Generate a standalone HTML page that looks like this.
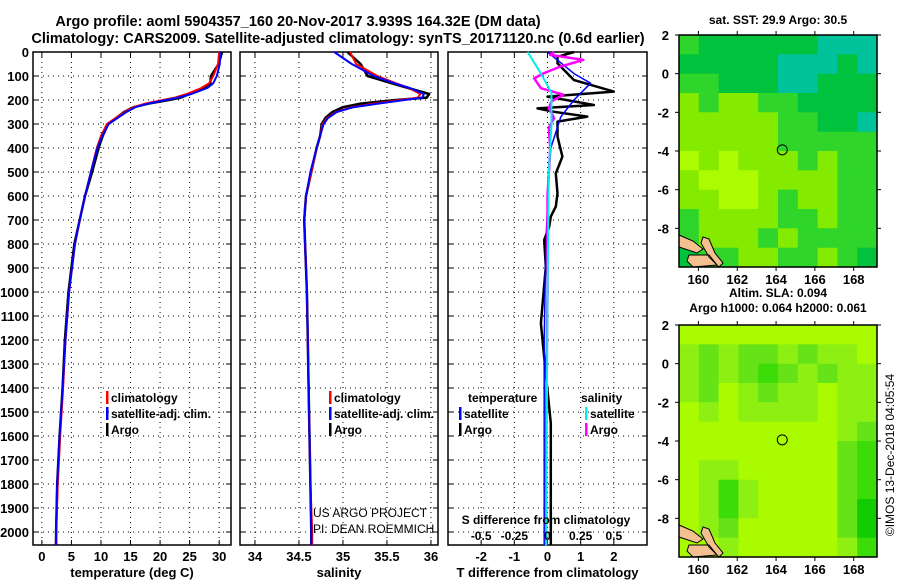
<!DOCTYPE html>
<html><head><meta charset="utf-8"><style>
body{margin:0;background:#fff}
svg{display:block;font-family:"Liberation Sans",Arial,sans-serif}
.b{font-weight:bold;font-size:13px}
.h{font-weight:bold;font-size:14.5px}
.t{font-weight:bold;font-size:12px}
</style></head><body>
<svg id="c" width="900" height="580" viewBox="0 0 900 580" xmlns="http://www.w3.org/2000/svg">
<text x="298" y="26" text-anchor="middle" class="h">Argo profile: aoml 5904357_160 20-Nov-2017 3.939S 164.32E (DM data)</text>
<text x="338" y="43" text-anchor="middle" class="h">Climatology: CARS2009. Satellite-adjusted climatology: synTS_20171120.nc (0.6d earlier)</text>
<g id="plots"></g>
</svg>
<script>
// ---------- data ----------
const depthTicks=[0,100,200,300,400,500,600,700,800,900,1000,1100,1200,1300,1400,1500,1600,1700,1800,1900,2000];
const tempTicks=[0,5,10,15,20,25,30];
const salTicks=[34,34.5,35,35.5,36];
const tdiffTicks=[-2,-1,0,1,2];
const sdiffTicks=[-0.5,-0.25,0,0.25,0.5];
const sdiffTickLabels=["-0.5","-0.25","0","0.25","0.5"];
const profDepth=[0,50,100,130,150,175,190,200,215,230,250,275,300,350,400,500,600,700,800,900,1000,1200,1400,1600,1800,2000,2055];
const tempClim=[30.0,29.8,29.0,28.3,27.0,24.5,22.5,20.5,17.5,15.5,14.0,12.5,11.0,10.0,9.3,8.3,7.3,6.4,5.6,5.1,4.6,4.0,3.6,3.1,2.7,2.4,2.35];
const tempSat=[30.2,30.1,29.6,29.0,28.0,25.3,23.0,21.0,18.0,15.8,14.3,12.8,11.3,10.2,9.4,8.3,7.3,6.4,5.6,5.1,4.6,4.0,3.5,3.0,2.6,2.4,2.35];
const tempArgo=[30.5,29.9,28.6,28.5,27.3,25.0,23.5,21.5,18.0,15.5,13.9,12.6,11.2,10.3,9.6,8.5,7.3,6.4,5.5,5.0,4.5,3.9,3.5,3.0,2.6,2.4,2.4];
const salClim=[35.08,35.15,35.39,35.6,35.75,35.88,35.85,35.65,35.35,35.1,34.92,34.82,34.77,34.74,34.7,34.64,34.58,34.56,34.57,34.58,34.59,34.6,34.61,34.62,34.63,34.65,34.65];
const salSat=[34.9,35.1,35.35,35.58,35.76,35.92,35.9,35.7,35.4,35.12,34.93,34.83,34.78,34.74,34.7,34.63,34.58,34.56,34.57,34.58,34.59,34.6,34.61,34.62,34.63,34.64,34.64];
const salArgo=[35.05,35.2,35.28,35.55,35.74,35.98,35.95,35.6,35.2,35.0,34.88,34.8,34.76,34.74,34.7,34.64,34.58,34.56,34.57,34.58,34.59,34.6,34.61,34.62,34.63,34.64,34.64];
const tdDepthArgo=[0,20,47,117,165,186,221,235,249,269,290,353,436,506,589,644,686,728,783,894,1131,1339,1547,1800,2055];
const tdArgo=[0.8,0.3,0.3,0.8,2.0,0.0,1.4,-0.3,0.2,1.2,0.3,0.3,0.45,0.25,0.3,0.25,0.1,0.05,-0.1,-0.05,-0.2,-0.05,0.1,0.1,0.1];
const tdDepthSat=[0,90,130,200,270,400,500,800,1200,2055];
const tdSat=[0.0,0.8,1.3,0.8,0.4,0.1,0.05,-0.05,-0.1,-0.1];
const sdDepthArgo=[0,12,33,60,89,110,151,178,206,234,275,316,400,600,1000,1500,2055];
const sdArgo=[0.05,0.02,0.27,0.1,-0.03,-0.1,-0.05,0.12,0.03,0.01,0.05,0.01,0.02,0.0,0.0,-0.01,-0.01];
const sdDepthSat=[0,80,170,300,500,1000,2055];
const sdSat=[-0.15,-0.06,0.03,0.03,0.01,0.0,-0.01];
const mapLonTicks=[160,162,164,166,168];
const mapLatTicks=[2,0,-2,-4,-6,-8];
const sstPalette=["#00c23c","#2fd52a","#84ea00","#acfb00","#00c39c"];
const sstGrid=[
[1,0,0,0,0,0,0,4,4,4],[0,0,0,0,0,4,4,4,0,4],[1,1,0,0,0,4,4,0,0,0],[2,1,2,2,1,1,0,0,0,0],
[2,2,2,2,2,1,1,0,0,4],[2,2,2,2,2,1,1,1,1,1],[3,2,3,2,2,2,1,2,1,1],[2,3,3,3,2,2,2,2,1,1],
[2,2,3,3,2,1,2,2,1,1],[1,2,2,2,2,1,1,2,1,1],[1,2,2,2,1,2,1,1,1,1],[0,1,1,2,2,1,1,2,1,0]];
const slaPalette=["#aafb00","#8ef012","#66e316","#3cdc08","#10cc00"];
const slaGrid=[
[0,0,0,0,0,0,0,0,0,0],[1,2,1,2,2,1,2,1,1,0],[1,2,1,2,3,2,1,2,1,1],[1,2,0,1,2,1,1,0,1,1],
[0,1,0,1,1,1,1,0,1,1],[0,0,0,0,0,0,0,0,1,2],[0,0,0,0,0,0,0,0,2,3],[0,1,1,0,0,0,0,0,2,3],
[0,1,3,1,0,0,0,0,2,3],[0,1,3,1,0,0,0,0,2,4],[0,1,2,0,0,0,0,0,2,4],[0,0,1,0,0,0,0,0,1,3]];
const floatLon=164.32, floatLat=-3.94;

// ---------- helpers ----------
const NS="http://www.w3.org/2000/svg";
const root=document.getElementById('plots');
function mk(tag,attrs,parent){const e=document.createElementNS(NS,tag);for(const k in attrs)e.setAttribute(k,attrs[k]);(parent||root).appendChild(e);return e;}
function txt(x,y,s,cls,anchor,parent){const e=mk('text',{x:x,y:y,'text-anchor':anchor||'middle','class':cls||'b'},parent);e.textContent=s;return e;}
const Y0=52, PX100=24;
function yD(d){return Y0+d*PX100/100;}
const yTop=52,yBot=545;
function panel(name,x0,x1,xmin,xmax,ticks,labels,title){
  const g=mk('g',{});
  
  
  const sx=v=>x0+(v-xmin)/(xmax-xmin)*(x1-x0);
  depthTicks.forEach(d=>{const l=mk('line',{x1:x0,x2:x1,y1:yD(d),y2:yD(d),stroke:'#000','stroke-width':1,'stroke-dasharray':'1,4'},g);
    
    
    mk('line',{x1:x0,x2:x0+5,y1:yD(d),y2:yD(d),stroke:'#000'},g);mk('line',{x1:x1-5,x2:x1,y1:yD(d),y2:yD(d),stroke:'#000'},g);});
  ticks.forEach((t,i)=>{mk('line',{x1:sx(t),x2:sx(t),y1:yTop,y2:yBot,stroke:'#000','stroke-dasharray':'1,4'},g);
    mk('line',{x1:sx(t),x2:sx(t),y1:yBot-5,y2:yBot,stroke:'#000'},g);mk('line',{x1:sx(t),x2:sx(t),y1:yTop,y2:yTop+5,stroke:'#000'},g);
    const tl=txt(sx(t),561,labels?labels[i]:String(t),'b','middle',g);
    
    });
  const r=mk('rect',{x:x0,y:yTop,width:x1-x0,height:yBot-yTop,fill:'none',stroke:'#000','stroke-width':1.5},g);
  
  
  const tt=txt((x0+x1)/2,577,title,'b','middle',g);
  
  
  return {g,sx};
}
function line(p,xs,ds,col,w,name,sx2){
  const f=sx2||p.sx;
  const pts=xs.map((v,i)=>f(v).toFixed(1)+','+yD(ds[i]).toFixed(1)).join(' ');
  const e=mk('polyline',{points:pts,fill:'none',stroke:col,'stroke-width':w,'stroke-linejoin':'round'},p.g);
  
  
}
function legend(g,x,y,col,label,name){
  mk('rect',{x:x,y:y-11,width:2.5,height:13,fill:col},g);
  const e=txt(x+5,y,label,'t','start',g);
  
  
}
depthTicks.forEach(d=>{const e=txt(29,yD(d)+5,String(d),'b','end');
  
  });

const p1=panel('temperature-panel',33,231,-1.5,32,tempTicks,null,'temperature (deg C)');
line(p1,tempArgo,profDepth,'#000',2.5,'temp-argo-line');
line(p1,tempClim,profDepth,'#f00',2,'temp-climatology-line');
line(p1,tempSat,profDepth,'#00f',2,'temp-satellite-line');
legend(p1.g,106,402,'#f00','climatology','legend-climatology');
legend(p1.g,106,418,'#00f','satellite-adj. clim.','legend-satellite');
legend(p1.g,106,434,'#000','Argo','legend-argo');

const p2=panel('salinity-panel',240,438,33.83,36.08,salTicks,null,'salinity');
line(p2,salArgo,profDepth,'#000',2.5,'sal-argo-line');
line(p2,salClim,profDepth,'#f00',2,'sal-climatology-line');
line(p2,salSat,profDepth,'#00f',2,'sal-satellite-line');
legend(p2.g,329,402,'#f00','climatology','legend-climatology');
legend(p2.g,329,418,'#00f','satellite-adj. clim.','legend-satellite');
legend(p2.g,329,434,'#000','Argo','legend-argo');
const u1=txt(313,517,'US ARGO PROJECT','t','start',p2.g);u1.setAttribute('style','font-weight:normal');


const u2=txt(313,533,'PI: DEAN ROEMMICH','t','start',p2.g);u2.setAttribute('style','font-weight:normal');



const p3=panel('difference-panel',448,647,-3,3,tdiffTicks,null,'T difference from climatology');
const sxS=v=>448+(v+0.75)/1.5*199;
line(p3,tdArgo,tdDepthArgo,'#000',2.5,'tdiff-argo-line');
line(p3,tdSat,tdDepthSat,'#00f',1.5,'tdiff-satellite-line');
line(p3,sdArgo,sdDepthArgo,'#f0f',2.5,'sdiff-argo-line',sxS);
line(p3,sdSat,sdDepthSat,'#0ee',2,'sdiff-satellite-line',sxS);
const lt=txt(468,402,'temperature','t','start',p3.g);


const ls=txt(581,402,'salinity','t','start',p3.g);


legend(p3.g,459,418,'#00f','satellite','legend-temp-satellite');
legend(p3.g,459,434,'#000','Argo','legend-temp-argo');
legend(p3.g,585,418,'#0ee','satellite','legend-sal-satellite');
legend(p3.g,585,434,'#f0f','Argo','legend-sal-argo');
const st=txt(546,524,'S difference from climatology','t','middle',p3.g);


sdiffTicks.forEach((t,i)=>{const e=txt(sxS(t),540,sdiffTickLabels[i],'t','middle',p3.g);
  
  });

function map(name,y0,grid,pal,titles){
  const g=mk('g',{});
  
  
  const x0=679,x1=877,y1=y0+232;
  const lx=v=>x0+(v-159)/(169.2-159)*(x1-x0);
  const ly=v=>y0+(2-v)/12*(y1-y0);
  const nr=grid.length,nc=grid[0].length;
  grid.forEach((row,r)=>row.forEach((v,c)=>{
    const e=mk('rect',{x:(x0+c*(x1-x0)/nc).toFixed(1),y:(y0+r*(y1-y0)/nr).toFixed(1),width:((x1-x0)/nc+0.6).toFixed(1),height:((y1-y0)/nr+0.6).toFixed(1),fill:pal[v]},g);
    
    }));
  const land=mk('path',{d:`M${x0} ${y1-32} l14 6 l10 8 l-6 4 l-18 -6 Z M${x0+24} ${y1-30} l6 2 l6 14 l8 10 l-4 4 l-10 -10 l-8 -14 Z M${x0+10} ${y1-12} l20 0 l8 10 l-24 2 l-6 -6 Z`,fill:'#f5c090',stroke:'#000','stroke-width':1},g);
  
  
  mk('rect',{x:x0,y:y0,width:x1-x0,height:y1-y0,fill:'none',stroke:'#000','stroke-width':1.5},g);
  mapLonTicks.forEach(t=>{mk('line',{x1:lx(t),x2:lx(t),y1:y1,y2:y1+4,stroke:'#000'},g);mk('line',{x1:lx(t),x2:lx(t),y1:y0-4,y2:y0,stroke:'#000'},g);
    const e=txt(lx(t),y1+17,String(t),'b','middle',g);
    
    });
  mapLatTicks.forEach(t=>{mk('line',{x1:x0-4,x2:x0,y1:ly(t),y2:ly(t),stroke:'#000'},g);mk('line',{x1:x1,x2:x1+4,y1:ly(t),y2:ly(t),stroke:'#000'},g);
    const e=txt(x0-10,ly(t)+5,String(t),'b','end',g);
    
    });
  const c=mk('circle',{cx:lx(floatLon),cy:ly(floatLat),r:5,fill:'none',stroke:'#000','stroke-width':1},g);
  
  
  titles.forEach((s,i)=>{const e=txt(778,titles.length==1?y0-11:y0-28+i*15,s,'t','middle',g);
    
    });
}
map('sst-map',35,sstGrid,sstPalette,['sat. SST: 29.9 Argo: 30.5']);
map('sla-map',325,slaGrid,slaPalette,['Altim. SLA: 0.094','Argo h1000: 0.064 h2000: 0.061']);
const stamp=txt(0,0,'©IMOS 13-Dec-2018 04:05:54','t','middle');
stamp.setAttribute('style','font-weight:normal');
stamp.setAttribute('transform','translate(894,455) rotate(-90)');


</script>
</body></html>
